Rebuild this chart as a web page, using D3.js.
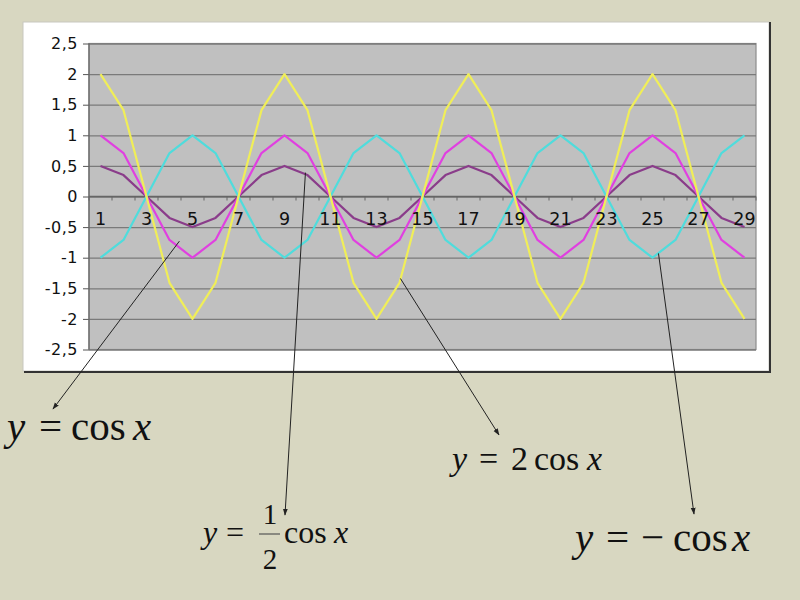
<!DOCTYPE html>
<html><head><meta charset="utf-8">
<script src="https://cdn.jsdelivr.net/npm/d3@7"></script>
<style>body{margin:0;background:#d8d7c1;} svg{display:block}</style>
</head><body>
<svg id="c" width="800" height="600"></svg>
<script>
// ---- data ----
const categories = [1,2,3,4,5,6,7,8,9,10,11,12,13,14,15,16,17,18,19,20,21,22,23,24,25,26,27,28,29];
const seriesCos     = [1,0.71,0,-0.71,-1,-0.71,0,0.71, 1,0.71,0,-0.71,-1,-0.71,0,0.71, 1,0.71,0,-0.71,-1,-0.71,0,0.71, 1,0.71,0,-0.71,-1];
const seriesHalfCos = [0.5,0.35,0,-0.35,-0.5,-0.35,0,0.35, 0.5,0.35,0,-0.35,-0.5,-0.35,0,0.35, 0.5,0.35,0,-0.35,-0.5,-0.35,0,0.35, 0.5,0.35,0,-0.35,-0.5];
const seriesTwoCos  = [2,1.41,0,-1.41,-2,-1.41,0,1.41, 2,1.41,0,-1.41,-2,-1.41,0,1.41, 2,1.41,0,-1.41,-2,-1.41,0,1.41, 2,1.41,0,-1.41,-2];
const seriesNegCos  = [-1,-0.71,0,0.71,1,0.71,0,-0.71, -1,-0.71,0,0.71,1,0.71,0,-0.71, -1,-0.71,0,0.71,1,0.71,0,-0.71, -1,-0.71,0,0.71,1];
const yTicks = [-2.5,-2,-1.5,-1,-0.5,0,0.5,1,1.5,2,2.5];
const xLabels = [1,3,5,7,9,11,13,15,17,19,21,23,25,27,29];

const series = [
  {name:"halfcos", values: seriesHalfCos, color:"#8a3c8a"},
  {name:"cos",     values: seriesCos,     color:"#e040e0"},
  {name:"negcos",  values: seriesNegCos,  color:"#4fdcdc"},
  {name:"twocos",  values: seriesTwoCos,  color:"#f0ee58"}
];

const svg = d3.select("#c");

// chart frame
svg.append("rect").attr("x",23).attr("y",22).attr("width",746).attr("height",349)
  .attr("fill","#fff").attr("stroke","#c8c8c0").attr("stroke-width",1);
svg.append("line").attr("x1",770).attr("x2",770).attr("y1",22).attr("y2",373).attr("stroke","#333").attr("stroke-width",2);
svg.append("line").attr("x1",24).attr("x2",771).attr("y1",372).attr("y2",372).attr("stroke","#333").attr("stroke-width",2);

const L=89, R=756, T=43.5, B=349.5;
const x = d3.scaleBand().domain(categories).range([L,R]);
const xc = c => x(c) + x.bandwidth()/2;
const y = d3.scaleLinear().domain([-2.5,2.5]).range([B,T]);

// plot area
svg.append("rect").attr("x",L).attr("y",T).attr("width",R-L).attr("height",B-T)
  .attr("fill","#c0c0c0").attr("stroke","#8c8c8c").attr("stroke-width",1.2);

// y axis with gridlines
const yAxis = d3.axisLeft(y).tickValues(yTicks).tickSize(-(R-L)).tickPadding(11)
  .tickFormat(d => String(d).replace(".",","));
const gy = svg.append("g").attr("transform",`translate(${L},0)`).call(yAxis);
gy.select(".domain").remove();
gy.selectAll(".tick line").attr("stroke","#7a7a7a").attr("stroke-width",1.3);
gy.selectAll(".tick").append("line").attr("x1",-6).attr("x2",0).attr("stroke","#555");
gy.selectAll(".tick text").style("font-family","DejaVu Sans").style("font-size","16px")
  .attr("letter-spacing","0.5px").attr("fill","#111");
svg.append("line").attr("x1",L).attr("x2",L).attr("y1",T).attr("y2",B).attr("stroke","#666").attr("stroke-width",1.2);

// x axis at zero
const y0 = y(0);
svg.append("line").attr("x1",L).attr("x2",R).attr("y1",y0).attr("y2",y0).attr("stroke","#666").attr("stroke-width",1.3);
svg.append("g").selectAll("line").data(categories.concat(["end"])).join("line")
  .attr("x1",d => d==="end" ? R : x(d)).attr("x2",d => d==="end" ? R : x(d))
  .attr("y1",y0).attr("y2",y0+4).attr("stroke","#666");

// lines
const line = d3.line().x((d,i) => xc(categories[i])).y(d => y(d));
svg.append("g").selectAll("path").data(series).join("path")
  .attr("d", s => line(s.values)).attr("fill","none")
  .attr("stroke", s => s.color).attr("stroke-width",2.2).attr("stroke-linejoin","round");

// x labels on top of lines
const xAxis = d3.axisBottom(x).tickValues(xLabels).tickSize(0).tickPadding(16);
const gx = svg.append("g").attr("transform",`translate(0,${y0})`).call(xAxis);
gx.select(".domain").remove();
gx.selectAll(".tick text").style("font-family","DejaVu Sans").style("font-size","17.5px").attr("fill","#111");

// annotation arrows (start anchored to data coords, end at formula)
const xcf = c => xc(1) + (c-1)*(xc(2)-xc(1));
const arrows = [
  {c:4.43, v:-0.73, ex:53, ey:409},
  {c:9.91, v:0.39, ex:285, ey:515},
  {c:14.04, v:-1.34, ex:499, ey:435},
  {c:25.26, v:-0.93, ex:694, ey:514}
];
const defs = svg.append("defs");
defs.append("marker").attr("id","ah").attr("viewBox","0 0 10 10").attr("refX",9).attr("refY",5)
  .attr("markerWidth",7).attr("markerHeight",7).attr("orient","auto")
  .append("path").attr("d","M0,1.5 L10,5 L0,8.5 Z").attr("fill","#222");
svg.append("g").selectAll("line").data(arrows).join("line")
  .attr("x1",d => xcf(d.c)).attr("y1",d => y(d.v)).attr("x2",d => d.ex).attr("y2",d => d.ey)
  .attr("stroke","#222").attr("stroke-width",1).attr("marker-end","url(#ah)");

// formulas
function piece(t, px, py, size, italic){
  svg.append("text").attr("x",px).attr("y",py).attr("font-family","Liberation Serif")
    .attr("font-size",size).attr("font-style",italic?"italic":"normal").attr("fill","#111").text(t);
}
// y = cos x
piece("y",7,440,41,true); piece("=",39,440,41,false); piece("cos",71,440,41,false); piece("x",133,440,41,true);
// y = 1/2 cos x
piece("y",203,543,32,true); piece("=",226,543,32,false);
svg.append("line").attr("x1",259).attr("x2",280).attr("y1",534).attr("y2",534).attr("stroke","#555").attr("stroke-width",1.2);
svg.append("text").attr("x",270).attr("y",524).attr("text-anchor","middle").attr("font-family","Liberation Serif").attr("font-size",29).attr("fill","#111").text("1");
svg.append("text").attr("x",270).attr("y",569).attr("text-anchor","middle").attr("font-family","Liberation Serif").attr("font-size",29).attr("fill","#111").text("2");
piece("cos",284,543,32,false); piece("x",334,543,32,true);
// y = 2 cos x
piece("y",452,470,34,true); piece("=",479,470,34,false); piece("2",511,470,34,false); piece("cos",534,470,34,false); piece("x",587,470,34,true);
// y = -cos x
piece("y",575,551,41,true); piece("=",606,551,41,false); piece("\u2212",641,551,41,false); piece("cos",673,551,41,false); piece("x",732,551,41,true);
</script>
</body></html>
